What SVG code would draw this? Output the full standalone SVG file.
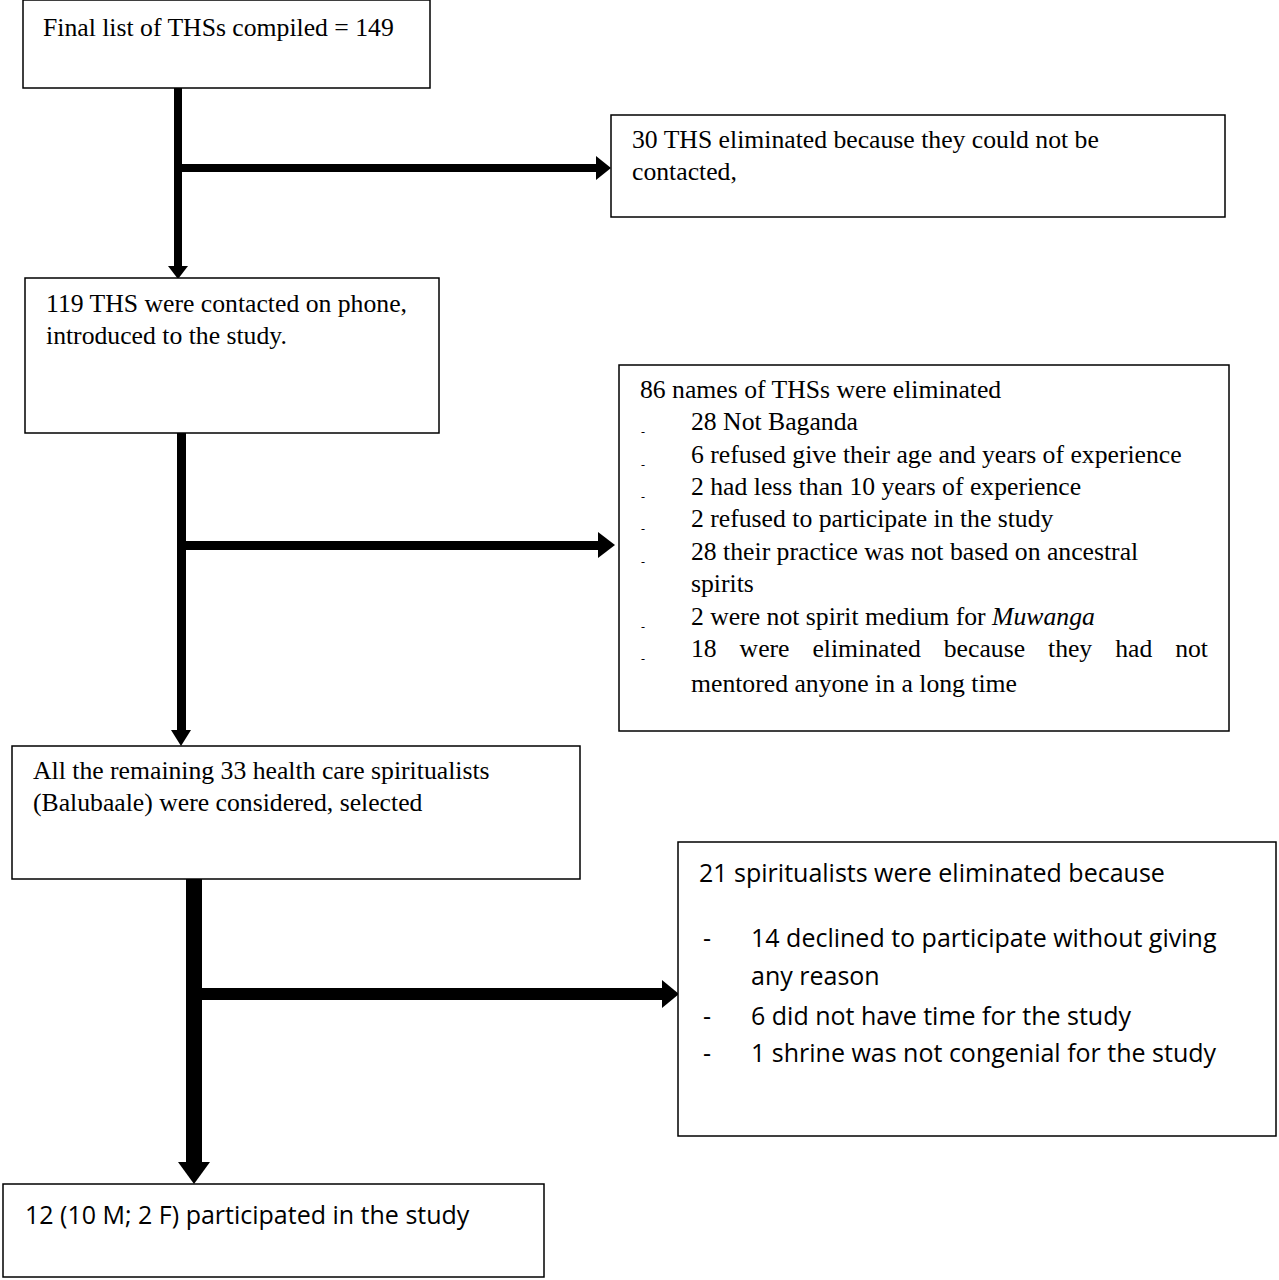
<svg xmlns="http://www.w3.org/2000/svg" width="1279" height="1280" viewBox="0 0 1279 1280">
<style>
.b{fill:#fff;stroke:#000;stroke-width:1.5}
.s{font-family:"Liberation Serif",serif;font-size:25.7px;fill:#000}
.c{font-family:"Open Sans","Liberation Sans",sans-serif;font-size:25px;fill:#000}
.d{font-family:"Liberation Serif",serif;font-size:12px}
</style>
<rect width="1279" height="1280" fill="#fff"/>
<g id="connectors" fill="#000">
<rect x="174" y="88" width="8" height="180"/><polygon points="168,266 188,266 178,279"/>
<rect x="178" y="164" width="420" height="8"/><polygon points="596,156 596,180 611,168"/>
<rect x="177" y="433" width="9" height="300"/><polygon points="171,730 191,730 181,746"/>
<rect x="181" y="541" width="420" height="9"/><polygon points="598,532 598,558 615,545"/>
<rect x="186" y="879" width="16" height="286"/><polygon points="178,1162 210,1162 194,1184"/>
<rect x="194" y="988" width="470" height="12"/><polygon points="662,980 662,1008 679,994"/>
</g>
<g id="n1"><rect class="b" x="23" y="0" width="407" height="88"/><text class="s" x="43" y="36">Final list of THSs compiled = 149</text></g>
<g id="n2"><rect class="b" x="611" y="115" width="614" height="102"/><text class="s" x="632" y="148">30 THS eliminated because they could not be</text><text class="s" x="632" y="180">contacted,</text></g>
<g id="n3"><rect class="b" x="25" y="278" width="414" height="155"/><text class="s" x="46" y="312">119 THS were contacted on phone,</text><text class="s" x="46" y="344">introduced to the study.</text></g>
<g id="n4"><rect class="b" x="619" y="365" width="610" height="366"/>
<text class="s" x="640" y="398">86 names of THSs were eliminated</text>
<text class="s" x="691" y="430">28 Not Baganda</text>
<text class="s" x="691" y="463">6 refused give their age and years of experience</text>
<text class="s" x="691" y="495">2 had less than 10 years of experience</text>
<text class="s" x="691" y="527">2 refused to participate in the study</text>
<text class="s" x="691" y="560">28 their practice was not based on ancestral</text>
<text class="s" x="691" y="592">spirits</text>
<text class="s" x="691" y="625">2 were not spirit medium for <tspan font-style="italic">Muwanga</tspan></text>
<text class="s" x="691" y="657" word-spacing="16.5">18 were eliminated because they had not</text>
<text class="s" x="691" y="692">mentored anyone in a long time</text>
<text class="d" x="641" y="436">-</text><text class="d" x="641" y="469">-</text><text class="d" x="641" y="501">-</text><text class="d" x="641" y="533">-</text><text class="d" x="641" y="566">-</text><text class="d" x="641" y="631">-</text><text class="d" x="641" y="663">-</text>
</g>
<g id="n5"><rect class="b" x="12" y="746" width="568" height="133"/><text class="s" x="33" y="779">All the remaining 33 health care spiritualists</text><text class="s" x="33" y="811">(Balubaale) were considered, selected</text></g>
<g id="n6"><rect class="b" x="678" y="842" width="598" height="294"/>
<text class="c" x="699" y="882" font-size="26.4px">21 spiritualists were eliminated because</text>
<text class="c" x="703" y="947">-</text><text class="c" x="751" y="947">14 declined to participate without giving</text>
<text class="c" x="751" y="985">any reason</text>
<text class="c" x="703" y="1025">-</text><text class="c" x="751" y="1025">6 did not have time for the study</text>
<text class="c" x="703" y="1062">-</text><text class="c" x="751" y="1062">1 shrine was not congenial for the study</text>
</g>
<g id="n7"><rect class="b" x="3" y="1184" width="541" height="93"/><text class="c" x="25" y="1224" font-size="31.5px">12 (10 M; 2 F) participated in the study</text></g>
</svg>
